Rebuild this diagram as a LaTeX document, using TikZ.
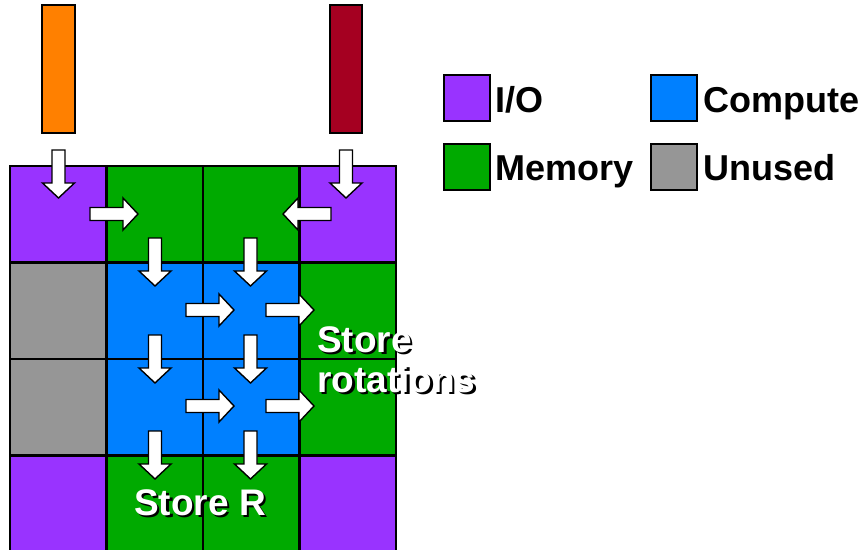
\documentclass[tikz,border=0pt]{standalone}
\usepackage{fontspec}
\setmainfont{Liberation Sans}
\newcommand{\shadowtext}[1]{\makebox[0pt][l]{\hspace{2.6pt}\raisebox{-2.6pt}{\textcolor{black}{#1}}}#1}
\begin{document}
\begin{tikzpicture}[x=1pt,y=-1pt,
  cell/.style={draw=black,line width=2.2pt},
  iocol/.style={fill=ioC},
  memcol/.style={fill=memC},
  compcol/.style={fill=compC},
  unusedcol/.style={fill=unC},
  legbox/.style={draw=black,line width=2pt,minimum size=46pt,inner sep=0pt},
  legtext/.style={anchor=base west,font=\bfseries\fontsize{36}{40}\selectfont,inner sep=0pt},
  lbl/.style={font=\bfseries\fontsize{37}{40}\selectfont,inner sep=0pt,text=white},
  pics/blockarrow/.style={code={
    \draw[fill=white,draw=black,line width=1.4pt,line join=miter]
      (0,-6.5)--(33,-6.5)--(33,-16)--(48,0)--(33,16)--(33,6.5)--(0,6.5)--cycle;}}
]
\definecolor{ioC}{HTML}{9933FF}
\definecolor{memC}{HTML}{00AA00}
\definecolor{compC}{HTML}{0080FF}
\definecolor{unC}{HTML}{969696}
\definecolor{orC}{HTML}{FF8000}
\definecolor{drC}{HTML}{A50021}
\useasboundingbox (0,0) rectangle (867,549);
\fill[white] (0,0) rectangle (867,549);
% input bars
\draw[fill=orC,line width=2pt] (42,5) rectangle (75,133);
\draw[fill=drC,line width=2pt] (330,5) rectangle (362,133);
% grid cells
\def\cx{{10,106.5,203,299.5,396}}
\def\ry{{166,262.5,359,455.5,560}}
\foreach \c/\r/\s in {0/0/iocol,1/0/memcol,2/0/memcol,3/0/iocol,
                      0/1/unusedcol,1/1/compcol,2/1/compcol,3/1/memcol,
                      0/2/unusedcol,1/2/compcol,2/2/compcol,3/2/memcol,
                      0/3/iocol,1/3/memcol,2/3/memcol,3/3/iocol}{
  \pgfmathsetmacro\xa{\cx[\c]}
  \pgfmathsetmacro\xb{\cx[\c+1]}
  \pgfmathsetmacro\ya{\ry[\r]}
  \pgfmathsetmacro\yb{\ry[\r+1]}
  \draw[cell,\s] (\xa,\ya) rectangle (\xb,\yb);
}
% arrows
\pic[rotate=-90] at (58.5,150) {blockarrow};
\pic[rotate=-90] at (346,150) {blockarrow};
\pic at (90,214) {blockarrow};
\pic[rotate=180] at (331,214) {blockarrow};
\foreach \yy in {238,335,431}{
  \pic[rotate=-90] at (155,\yy) {blockarrow};
  \pic[rotate=-90] at (250.5,\yy) {blockarrow};
}
\foreach \yy in {310,406}{
  \pic at (186,\yy) {blockarrow};
  \pic at (266,\yy) {blockarrow};
}
% labels with shadow
\node[lbl,anchor=base west] (st1) at (317,352) {\shadowtext{Store}};
\node[lbl,anchor=base west] (st2) at (317,392) {\shadowtext{rotations}};
\node[lbl,anchor=base] (st3) at (200,515) {\shadowtext{Store R}};
% legend
\node[legbox,fill=ioC] (lio) at (466.5,97.5) {};
\node[legtext] (tio) at (495,112) {I/O};
\node[legbox,fill=compC] (lcomp) at (674,97.5) {};
\node[legtext] (tcomp) at (703,112) {Compute};
\node[legbox,fill=memC] (lmem) at (466.5,166.5) {};
\node[legtext] (tmem) at (495,180) {Memory};
\node[legbox,fill=unC] (lun) at (674,166.5) {};
\node[legtext] (tun) at (703,180) {Unused};
\end{tikzpicture}
\end{document}
